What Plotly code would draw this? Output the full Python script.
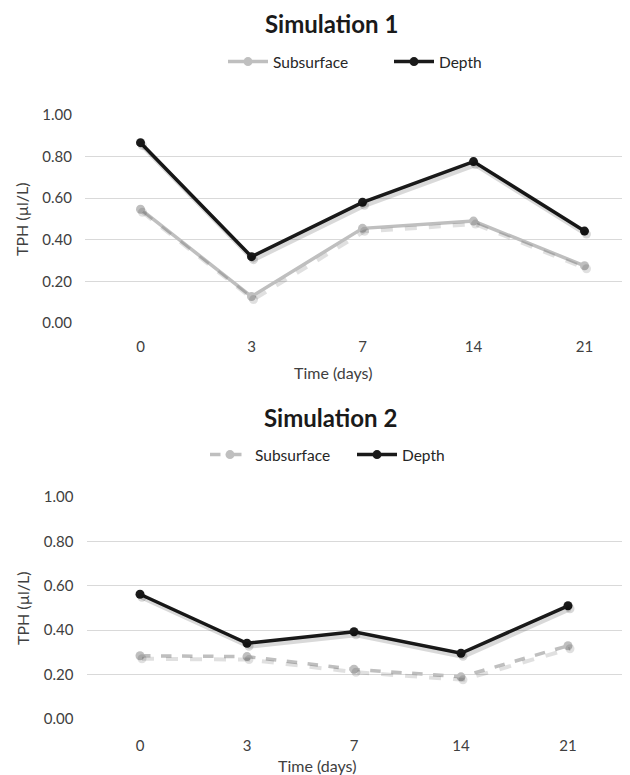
import plotly.graph_objects as go

# ---- data ----
days = ["0", "3", "7", "14", "21"]
sim1_subsurface = [0.547, 0.127, 0.455, 0.490, 0.275]
sim1_depth = [0.867, 0.319, 0.580, 0.776, 0.442]
sim2_subsurface = [0.285, 0.281, 0.224, 0.190, 0.330]
sim2_depth = [0.562, 0.341, 0.393, 0.296, 0.510]
y_ticks = [0.0, 0.2, 0.4, 0.6, 0.8, 1.0]
y_tick_text = ["0.00", "0.20", "0.40", "0.60", "0.80", "1.00"]

OFF = 8  # page body margin
W, H = 630 - OFF, 775 - OFF
FONT = "Lato"
GRAY = "#bfbfbf"
BLACK = "#1a1a1a"
TICK_C = "#404040"
GRID = "#d9d9d9"
SHADOW = "rgba(0,0,0,0.15)"
SHADOW_L = "rgba(0,0,0,0.12)"


def px_x(p):
    return (p - OFF) / W


def px_y(p):
    return 1 - (p - OFF) / H


fig = go.Figure()

# shadows (drawn on overlay axes whose range is nudged a few pixels)
fig.add_trace(go.Scatter(x=days, y=sim1_subsurface, xaxis="x3", yaxis="y3", mode="lines+markers",
                         line=dict(color=SHADOW_L, width=4, dash="dash"), marker=dict(size=9, color=SHADOW_L),
                         showlegend=False, hoverinfo="skip"))
fig.add_trace(go.Scatter(x=days, y=sim1_depth, xaxis="x3", yaxis="y3", mode="lines+markers",
                         line=dict(color=SHADOW, width=5), marker=dict(size=9, color=SHADOW),
                         showlegend=False, hoverinfo="skip"))
fig.add_trace(go.Scatter(x=days, y=sim2_subsurface, xaxis="x4", yaxis="y4", mode="lines+markers",
                         line=dict(color=SHADOW_L, width=4, dash="dash"), marker=dict(size=9, color=SHADOW_L),
                         showlegend=False, hoverinfo="skip"))
fig.add_trace(go.Scatter(x=days, y=sim2_depth, xaxis="x4", yaxis="y4", mode="lines+markers",
                         line=dict(color=SHADOW, width=5), marker=dict(size=9, color=SHADOW),
                         showlegend=False, hoverinfo="skip"))

# Simulation 1
fig.add_trace(go.Scatter(x=days, y=sim1_subsurface, name="Subsurface", mode="lines+markers",
                         line=dict(color=GRAY, width=3.5), marker=dict(size=9, color=GRAY),
                         xaxis="x", yaxis="y", legend="legend"))
fig.add_trace(go.Scatter(x=days, y=sim1_depth, name="Depth", mode="lines+markers",
                         line=dict(color=BLACK, width=3.5), marker=dict(size=9, color=BLACK),
                         xaxis="x", yaxis="y", legend="legend"))
# Simulation 2
fig.add_trace(go.Scatter(x=days, y=sim2_subsurface, name="Subsurface", mode="lines+markers",
                         line=dict(color=GRAY, width=3.5, dash="dash"), marker=dict(size=9, color=GRAY),
                         xaxis="x2", yaxis="y2", legend="legend2"))
fig.add_trace(go.Scatter(x=days, y=sim2_depth, name="Depth", mode="lines+markers",
                         line=dict(color=BLACK, width=3.5), marker=dict(size=9, color=BLACK),
                         xaxis="x2", yaxis="y2", legend="legend2"))

tickfont = dict(family=FONT, size=15, color=TICK_C)
axtitlefont = dict(family=FONT, size=16, color=TICK_C)
legfont = dict(family=FONT, size=15.5, color="#262626")

# top plot geometry (pixels in the 630x775 picture)
top_x0, top_x1 = 85, 630
top_span = 111.0
top_range = [-0.5, -0.5 + (top_x1 - top_x0) / top_span]
top_y0, top_y1 = 115, 323
# bottom plot geometry
bot_x0, bot_x1 = 86.5, 621.5
bot_span = (bot_x1 - bot_x0) / 5
bot_range = [-0.5, 4.5]
bot_y0, bot_y1 = 497, 719

sdx, sdy = 2.0, 3.0  # shadow offset in pixels

common_x = dict(type="category", categoryorder="array", categoryarray=days, showgrid=False,
                zeroline=False, showline=False, ticks="", tickfont=tickfont, fixedrange=True)
common_y = dict(range=[0, 1], tickvals=y_ticks, ticktext=y_tick_text, showgrid=True, gridcolor=GRID,
                gridwidth=1, zeroline=False, showline=False, ticks="", tickfont=tickfont, fixedrange=True,
                ticklabelstandoff=12)

fig.update_layout(
    width=W, height=H,
    margin=dict(l=0, r=0, t=0, b=0, pad=0, autoexpand=False),
    paper_bgcolor="white", plot_bgcolor="white",
    font=dict(family=FONT, color=TICK_C),
    xaxis=dict(common_x, domain=[px_x(top_x0), px_x(top_x1)], range=top_range, anchor="y",
               ticklabelstandoff=13),
    yaxis=dict(common_y, domain=[px_y(top_y1), px_y(top_y0)], anchor="x"),
    xaxis2=dict(common_x, domain=[px_x(bot_x0), px_x(bot_x1)], range=bot_range, anchor="y2",
                ticklabelstandoff=16),
    yaxis2=dict(common_y, domain=[px_y(bot_y1), px_y(bot_y0)], anchor="x2"),
    xaxis3=dict(type="category", categoryorder="array", categoryarray=days, overlaying="x", visible=False,
                range=[top_range[0] - sdx / top_span, top_range[1] - sdx / top_span], fixedrange=True),
    yaxis3=dict(overlaying="y", visible=False,
                range=[sdy / (top_y1 - top_y0), 1 + sdy / (top_y1 - top_y0)], fixedrange=True),
    xaxis4=dict(type="category", categoryorder="array", categoryarray=days, overlaying="x2", visible=False,
                range=[bot_range[0] - sdx / bot_span, bot_range[1] - sdx / bot_span], fixedrange=True),
    yaxis4=dict(overlaying="y2", visible=False,
                range=[sdy / (bot_y1 - bot_y0), 1 + sdy / (bot_y1 - bot_y0)], fixedrange=True),
    legend=dict(orientation="h", x=px_x(223), xanchor="left", y=px_y(62), yanchor="middle",
                font=legfont, bgcolor="rgba(0,0,0,0)", itemwidth=40, tracegroupgap=0,
                entrywidth=111, entrywidthmode="pixels"),
    legend2=dict(orientation="h", x=px_x(205), xanchor="left", y=px_y(455), yanchor="middle",
                 font=legfont, bgcolor="rgba(0,0,0,0)", itemwidth=40, tracegroupgap=0,
                 entrywidth=92, entrywidthmode="pixels"),
    annotations=[
        dict(text="<b>Simulation 1</b>", x=px_x(331), y=px_y(24), xref="paper", yref="paper",
             showarrow=False, font=dict(family=FONT, size=24, color=BLACK), xanchor="center", yanchor="middle"),
        dict(text="<b>Simulation 2</b>", x=px_x(330), y=px_y(418), xref="paper", yref="paper",
             showarrow=False, font=dict(family=FONT, size=24, color=BLACK), xanchor="center", yanchor="middle"),
        dict(text="Time (days)", x=px_x(333), y=px_y(373), xref="paper", yref="paper",
             showarrow=False, font=axtitlefont, xanchor="center", yanchor="middle"),
        dict(text="Time (days)", x=px_x(317), y=px_y(765), xref="paper", yref="paper",
             showarrow=False, font=axtitlefont, xanchor="center", yanchor="middle"),
        dict(text="TPH (µl/L)", x=px_x(22), y=px_y(219), xref="paper", yref="paper", textangle=-90,
             showarrow=False, font=axtitlefont, xanchor="center", yanchor="middle"),
        dict(text="TPH (µl/L)", x=px_x(22), y=px_y(608), xref="paper", yref="paper", textangle=-90,
             showarrow=False, font=axtitlefont, xanchor="center", yanchor="middle"),
    ],
    showlegend=True,
)

fig.write_html("out.html")
